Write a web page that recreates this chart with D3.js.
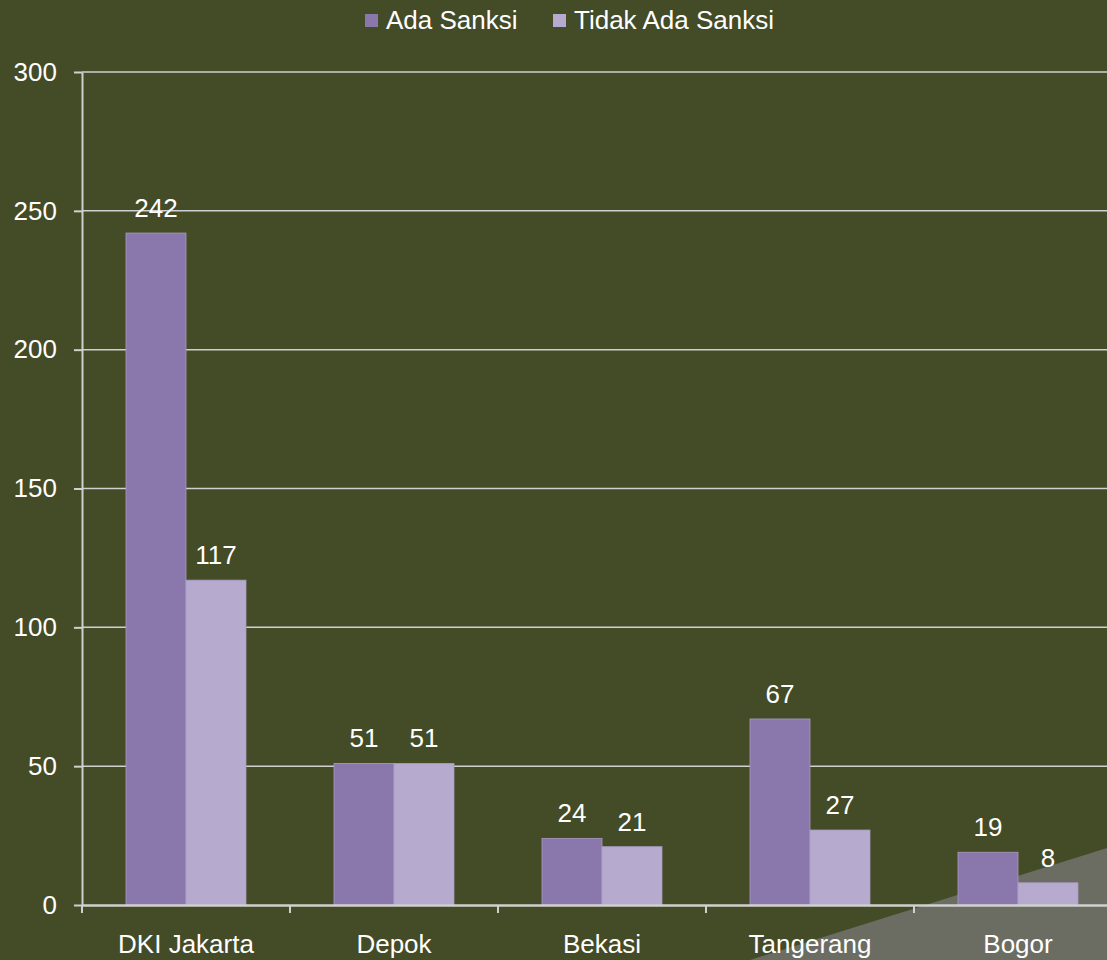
<!DOCTYPE html>
<html>
<head>
<meta charset="utf-8">
<script src="https://cdn.jsdelivr.net/npm/d3@7/dist/d3.min.js"></script>
<style>
  body { margin: 0; background: #434b27; }
  svg { display: block; font-family: "Liberation Sans", Arial, sans-serif; }
</style>
</head>
<body>
<div id="chart"></div>
<script>
var categories = ['DKI Jakarta', 'Depok', 'Bekasi', 'Tangerang', 'Bogor'];
var seriesNames = ['Ada Sanksi', 'Tidak Ada Sanksi'];
var adaSanksi = [242, 51, 24, 67, 19];
var tidakAdaSanksi = [117, 51, 21, 27, 8];
var yTicks = [0, 50, 100, 150, 200, 250, 300];
var colors = ['#8a77ab', '#b7aacf'];

var width = 1107, height = 960;
var margin = { top: 72, left: 82, bottom: 55 };
var plotW = 1040;
var plotH = height - margin.top - margin.bottom;
var fontSize = 26;

var svg = d3.select('#chart').append('svg')
  .attr('width', width)
  .attr('height', height);

svg.append('rect').attr('width', width).attr('height', height).attr('fill', '#434b27');

// grey corner
svg.append('path')
  .attr('d', d3.line()([[750, 960], [1107, 848], [1107, 960]]))
  .attr('fill', '#6b6c62');

var x = d3.scaleBand().domain(categories).range([0, plotW]);
var x1 = d3.scaleBand().domain(seriesNames).range([44, x.bandwidth() - 44]);
var y = d3.scaleLinear().domain([0, 300]).range([plotH, 0]);

var chart = svg.append('g')
  .attr('transform', 'translate(' + margin.left + ',' + margin.top + ')');

// gridlines
chart.selectAll('.grid')
  .data(yTicks.filter(function (d) { return d > 0; }))
  .enter().append('line')
  .attr('x1', 0).attr('x2', plotW)
  .attr('y1', function (d) { return y(d); })
  .attr('y2', function (d) { return y(d); })
  .attr('stroke', '#d0d0d0').attr('stroke-width', 1.5);

var data = [];
categories.forEach(function (c, i) {
  data.push({ cat: c, s: seriesNames[0], v: adaSanksi[i], col: colors[0] });
  data.push({ cat: c, s: seriesNames[1], v: tidakAdaSanksi[i], col: colors[1] });
});

chart.selectAll('.bar')
  .data(data)
  .enter().append('rect')
  .attr('x', function (d) { return x(d.cat) + x1(d.s); })
  .attr('y', function (d) { return y(d.v); })
  .attr('width', x1.bandwidth())
  .attr('height', function (d) { return y(0) - y(d.v); })
  .attr('fill', function (d) { return d.col; })
  .attr('stroke', '#a89cc0').attr('stroke-width', 0.8);

chart.selectAll('.val')
  .data(data)
  .enter().append('text')
  .attr('x', function (d) { return x(d.cat) + x1(d.s) + x1.bandwidth() / 2; })
  .attr('y', function (d) { return y(d.v) - 16; })
  .attr('text-anchor', 'middle')
  .attr('fill', '#fff').attr('font-size', fontSize)
  .text(function (d) { return d.v; });

// Y axis
var yAxis = d3.axisLeft(y).tickValues(yTicks).tickSize(8).tickSizeOuter(0).tickPadding(17);
var yg = chart.append('g').call(yAxis);
yg.select('.domain').attr('stroke', '#d0d0d0').attr('stroke-width', 2);
yg.selectAll('.tick line').attr('stroke', '#d0d0d0').attr('stroke-width', 2);
yg.selectAll('.tick text').attr('fill', '#fff').attr('font-size', fontSize)
  .attr('font-family', '"Liberation Sans", Arial, sans-serif');

// X axis
var xAxis = d3.axisBottom(x).tickSize(0);
var xg = chart.append('g').attr('transform', 'translate(0,' + plotH + ')').call(xAxis);
xg.select('.domain').attr('stroke', '#d0d0d0').attr('stroke-width', 2.5);
xg.selectAll('.tick text').attr('fill', '#fff').attr('font-size', fontSize)
  .attr('font-family', '"Liberation Sans", Arial, sans-serif')
  .attr('y', 48).attr('dy', 0);
xg.selectAll('.sep')
  .data(categories)
  .enter().append('line')
  .attr('x1', function (d) { return x(d); })
  .attr('x2', function (d) { return x(d); })
  .attr('y1', 0).attr('y2', 8)
  .attr('stroke', '#d0d0d0').attr('stroke-width', 2);

// Legend
var legend = svg.append('g');
var legendX = [365, 553];
seriesNames.forEach(function (s, i) {
  legend.append('rect')
    .attr('x', legendX[i]).attr('y', 14)
    .attr('width', 13).attr('height', 13)
    .attr('fill', colors[i]);
  legend.append('text')
    .attr('x', legendX[i] + 21).attr('y', 29)
    .attr('fill', '#fff').attr('font-size', fontSize)
    .text(s);
});
</script>
</body>
</html>
